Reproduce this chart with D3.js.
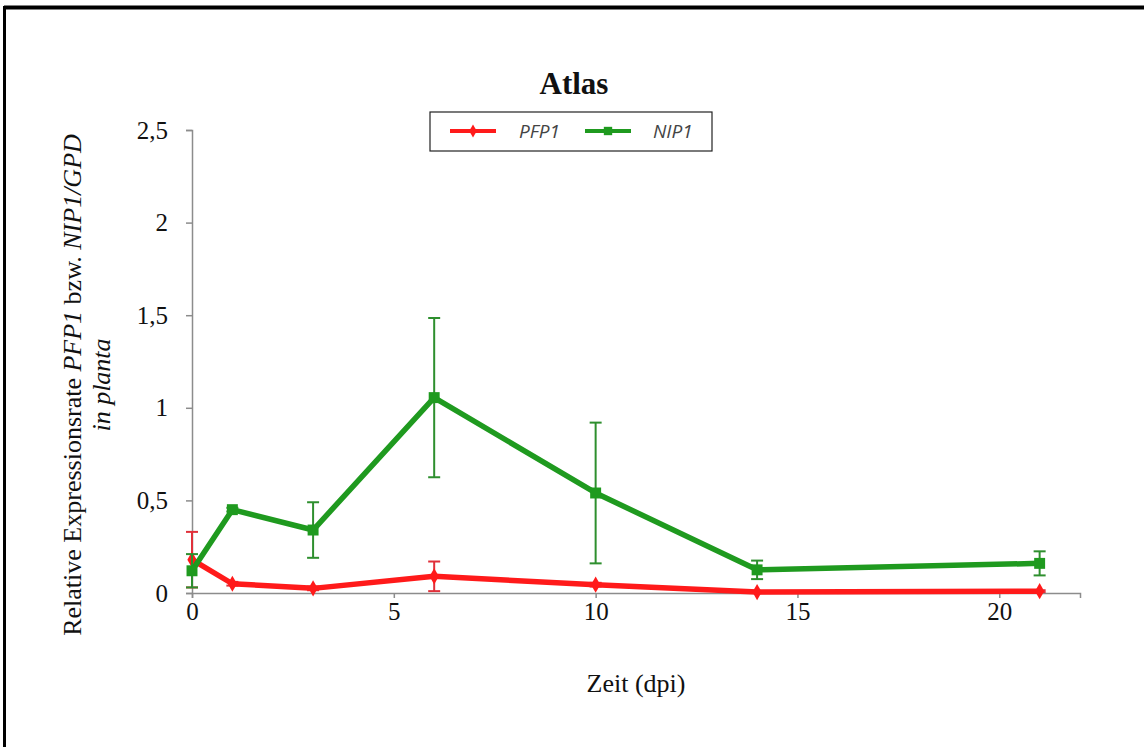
<!DOCTYPE html>
<html>
<head>
<meta charset="utf-8">
<script src="https://cdn.jsdelivr.net/npm/d3@7"></script>
<style>
  html, body { margin: 0; padding: 0; background: #fff; }
  svg { display: block; }
</style>
</head>
<body>
<svg id="chart" width="1144" height="747"></svg>
<script>
// Sampling days (dpi)
const days = [0, 1, 3, 6, 10, 14, 21];

// Relative expression, PFP1
const pfp1Values = [0.18, 0.05, 0.025, 0.09, 0.045, 0.005, 0.01];
const pfp1Errors = [0.15, 0.01, 0.01, 0.08, 0.01, 0.005, 0.005];

// Relative expression, NIP1
const nip1Values = [0.12, 0.45, 0.34, 1.055, 0.54, 0.125, 0.16];
const nip1Errors = [0.09, 0.01, 0.15, 0.43, 0.38, 0.05, 0.065];

const yTicks = [0, 0.5, 1, 1.5, 2, 2.5];
const xTicks = [0, 5, 10, 15, 20];

const serif = "'Liberation Serif', 'Times New Roman', serif";
const svg = d3.select("#chart");

// Outer frame (top and left edges)
svg.append("line").attr("x1", 4).attr("x2", 1144).attr("y1", 7.5).attr("y2", 7.5)
  .attr("stroke", "#000").attr("stroke-width", 4);
svg.append("line").attr("x1", 4.5).attr("x2", 4.5).attr("y1", 6).attr("y2", 747)
  .attr("stroke", "#000").attr("stroke-width", 3);

const x = d3.scaleLinear().domain([0, 22]).range([192, 1080]);
const y = d3.scaleLinear().domain([0, 2.5]).range([593, 130]);

const fmt = d => String(d).replace(".", ",");

// Y axis
const yAxis = svg.append("g").attr("transform", `translate(${x(0)},0)`)
  .call(d3.axisLeft(y).tickValues(yTicks).tickFormat(fmt).tickSize(6).tickPadding(18));
// X axis
const xAxis = svg.append("g").attr("transform", `translate(0,${y(0)})`)
  .call(d3.axisBottom(x).tickValues(xTicks).tickFormat(fmt).tickSize(5).tickPadding(4));

[yAxis, xAxis].forEach(g => {
  g.select(".domain").attr("stroke", "#8c8c8c").attr("stroke-width", 1.5);
  g.selectAll(".tick line").attr("stroke", "#8c8c8c").attr("stroke-width", 1.5);
  g.selectAll(".tick text").attr("fill", "#111")
    .style("font-family", serif)
    .style("font-size", "25px");
});

// Series
const series = [
  { name: "PFP1", values: pfp1Values, errors: pfp1Errors, color: "#ff1a1a", bar: "#e0303a", marker: "diamond" },
  { name: "NIP1", values: nip1Values, errors: nip1Errors, color: "#1f9a1f", bar: "#2e8f2e", marker: "square" }
];

const line = d3.line().x(d => x(d[0])).y(d => y(d[1]));

series.forEach(s => {
  const pts = days.map((d, i) => [d, s.values[i], s.errors[i]]);
  const g = svg.append("g");
  // error bars
  pts.forEach(p => {
    const lo = Math.max(0, p[1] - p[2]), hi = p[1] + p[2];
    g.append("line").attr("x1", x(p[0])).attr("x2", x(p[0]))
      .attr("y1", y(lo)).attr("y2", y(hi))
      .attr("stroke", s.bar).attr("stroke-width", 2);
    [lo, hi].forEach(v => {
      g.append("line").attr("x1", x(p[0]) - 6).attr("x2", x(p[0]) + 6)
        .attr("y1", y(v)).attr("y2", y(v))
        .attr("stroke", s.bar).attr("stroke-width", 2);
    });
  });
  g.append("path").datum(pts).attr("d", line)
    .attr("fill", "none").attr("stroke", s.color).attr("stroke-width", 5.5)
    .attr("stroke-linejoin", "round");
  const sym = s.marker === "square"
    ? d3.symbol().type(d3.symbolSquare).size(120)
    : d3.symbol().type(d3.symbolDiamond).size(75);
  g.selectAll("path.m").data(pts).join("path").attr("class", "m")
    .attr("d", sym)
    .attr("transform", p => `translate(${x(p[0])},${y(p[1])})`)
    .attr("fill", s.color);
});

// Title
svg.append("text").attr("x", 574).attr("y", 94).attr("text-anchor", "middle")
  .style("font-family", serif)
  .style("font-size", "31px").style("font-weight", "bold").attr("fill", "#111")
  .text("Atlas");

// Legend
const lg = svg.append("g");
lg.append("rect").attr("x", 430).attr("y", 112).attr("width", 282).attr("height", 39)
  .attr("fill", "#fff").attr("stroke", "#222").attr("stroke-width", 1.2);
const legendItems = [
  { s: series[0], lx: 450, tx: 519 },
  { s: series[1], lx: 585, tx: 653 }
];
legendItems.forEach(it => {
  lg.append("line").attr("x1", it.lx).attr("x2", it.lx + 46)
    .attr("y1", 131).attr("y2", 131)
    .attr("stroke", it.s.color).attr("stroke-width", 4);
  const sym = it.s.marker === "square"
    ? d3.symbol().type(d3.symbolSquare).size(70)
    : d3.symbol().type(d3.symbolDiamond).size(50);
  lg.append("path").attr("d", sym)
    .attr("transform", `translate(${it.lx + 23},131)`).attr("fill", it.s.color);
  lg.append("text").attr("x", it.tx).attr("y", 138)
    .style("font-family", "'Open Sans', 'Liberation Sans', sans-serif")
    .style("font-size", "19px").style("font-style", "italic").attr("fill", "#444")
    .text(it.s.name);
});

// Axis titles
svg.append("text").attr("x", 636).attr("y", 692).attr("text-anchor", "middle")
  .style("font-family", serif)
  .style("font-size", "26px").attr("fill", "#111")
  .text("Zeit (dpi)");

const yl = svg.append("text").attr("transform", "translate(81,385) rotate(-90)")
  .attr("text-anchor", "middle")
  .style("font-family", serif)
  .style("font-size", "26px").attr("fill", "#111");
yl.append("tspan").text("Relative Expressionsrate ");
yl.append("tspan").style("font-style", "italic").text("PFP1");
yl.append("tspan").text(" bzw. ");
yl.append("tspan").style("font-style", "italic").text("NIP1/GPD");

svg.append("text").attr("transform", "translate(110,385) rotate(-90)")
  .attr("text-anchor", "middle")
  .style("font-family", serif)
  .style("font-size", "26px").style("font-style", "italic").attr("fill", "#111")
  .text("in planta");
</script>
</body>
</html>
